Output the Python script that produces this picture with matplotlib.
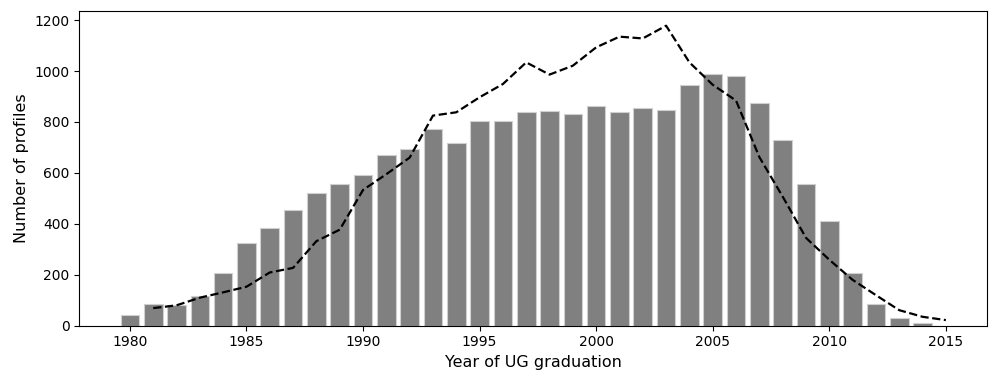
import matplotlib.pyplot as plt

# profiles per year of UG graduation (bars) and comparison curve (dashed)
years = list(range(1980, 2015))
profiles = [42, 84, 83, 118, 205, 325, 384, 456, 522, 555,
            590, 672, 693, 774, 718, 802, 802, 841, 843, 832,
            864, 841, 853, 848, 947, 990, 979, 876, 731, 556,
            411, 208, 86, 29, 10]

curve_years = list(range(1981, 2016))
curve = [69, 80, 110, 131, 153, 209, 227, 332, 377, 533,
         595, 660, 825, 838, 897, 949, 1034, 986, 1021, 1093,
         1135, 1128, 1178, 1034, 946, 884, 662, 507, 345, 259,
         180, 120, 61, 35, 22]

fig = plt.figure(figsize=(9.9, 3.73), dpi=100)
ax = fig.add_axes([0.0801, 0.1268, 0.917, 0.8445])

ax.bar(years, profiles, width=0.8, color='#808080', edgecolor='#d0d0d0', linewidth=0.8)
ax.plot(curve_years, curve, 'k--', linewidth=1.6)

ax.set_xlabel('Year of UG graduation', fontsize=11.5)
ax.set_ylabel('Number of profiles', fontsize=11.5)
ax.tick_params(labelsize=10)

fig.savefig('out.png', dpi=100)
